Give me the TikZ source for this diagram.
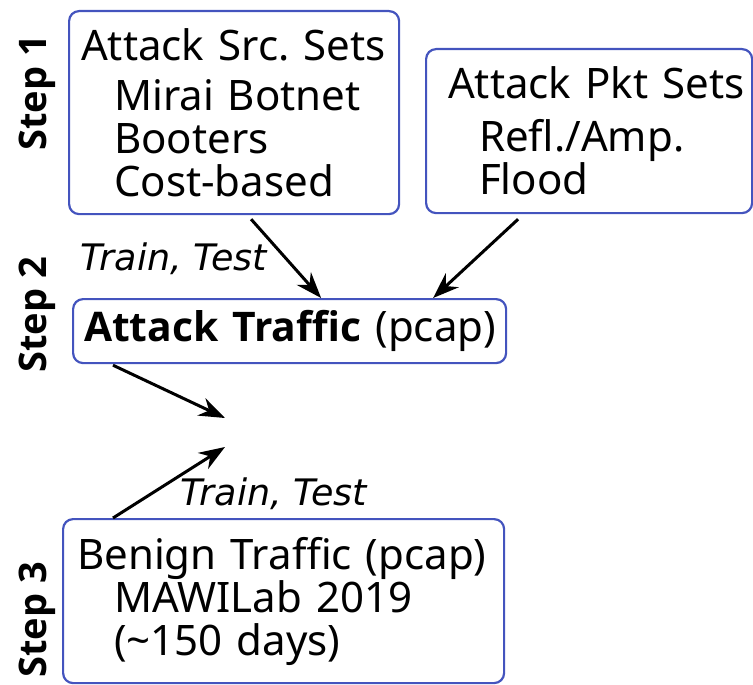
\documentclass[tikz,border=0pt]{standalone}
\usepackage{fontspec}
\setmainfont{Noto Sans}
\newfontfamily\boldfam{Open Sans}
\newfontfamily\obliqfont{DejaVu Sans}
\usetikzlibrary{arrows.meta}
\definecolor{boxblue}{RGB}{68,84,190}
\frenchspacing

\begin{document}
\begin{tikzpicture}[x=1pt, y=-1pt,
    setbox/.style={draw=boxblue, line width=2.2pt, rounded corners=10pt, anchor=north west,
      align=left, inner xsep=4pt, inner ysep=0pt, font=\fontsize{42}{43}\selectfont},
    steplabel/.style={rotate=90, inner sep=0pt, font=\fontsize{38}{40}\selectfont\boldfam\bfseries},
    splitlabel/.style={anchor=base west, inner sep=0pt, font=\fontsize{36.5}{38}\selectfont\obliqfont\itshape},
    flow/.style={line width=3pt, -{Stealth[length=26pt, width=19pt]}}]
  \useasboundingbox (0,0) rectangle (753,685);
  \node[setbox, text width=322pt, minimum height=203pt] (src) at (68,10)
    {\hspace*{8pt}Attack Src. Sets\\[7pt]\hspace*{41pt}Mirai Botnet\\\hspace*{41pt}Booters\\\hspace*{41pt}Cost-based};
  \node[setbox, text width=318pt, minimum height=164pt] (pkt) at (425,48)
    {\hspace*{18pt}Attack Pkt Sets\\[10pt]\hspace*{49pt}Refl./Amp.\\\hspace*{49pt}Flood};
  \node[setbox, text width=425pt, minimum height=64pt] (traffic) at (72,298)
    {\mbox{\hspace*{7pt}{\fontsize{40.8}{43}\selectfont\boldfam\bfseries Attack Traffic} (pcap)}};
  \node[setbox, text width=433pt, minimum height=164pt] (benign) at (62,518)
    {\hspace*{10pt}Benign Traffic (pcap)\\\hspace*{47pt}MAWILab 2019\\\hspace*{47pt}(\textasciitilde150 days)};
  \node[steplabel] (step1) at (37,93) {Step 1};
  \node[steplabel] (step2) at (37,315) {Step 2};
  \node[steplabel] (step3) at (37,620) {Step 3};
  \node[splitlabel] (trainA) at (80,270) {Train, Test};
  \node[splitlabel] (trainB) at (180,505) {Train, Test};
  \coordinate (joinA) at (225,418);
  \coordinate (joinB) at (225,447);
  \draw[flow] ([xshift=17pt, yshift=-4pt]src.south) -- ([xshift=31.5pt]traffic.north);
  \draw[flow] ([xshift=-71pt, yshift=-5pt]pkt.south) -- ([xshift=143.5pt]traffic.north);
  \draw[flow] ([xshift=41pt, yshift=-1pt]traffic.south west) -- (joinA);
  \draw[flow] ([xshift=51pt]benign.north west) -- (joinB);
\end{tikzpicture}
\end{document}
